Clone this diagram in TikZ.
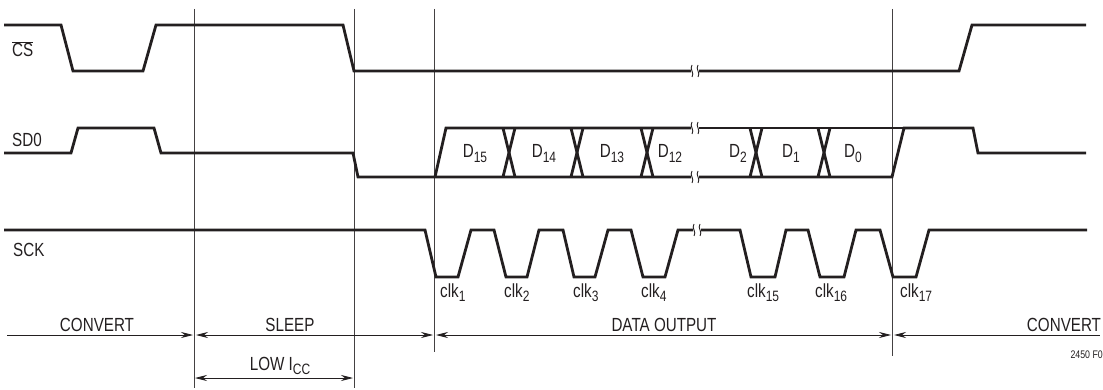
\documentclass[tikz,border=0pt]{standalone}
\usepackage{fontspec}
\setmainfont[FakeStretch=0.8]{Liberation Sans}
\usetikzlibrary{arrows.meta}
\definecolor{ink}{HTML}{231F20}
\newcommand\sbs[1]{\raisebox{-0.26em}{\fontsize{15}{16}\selectfont #1}}
\newcommand\brkmark[2]{%
  \draw[brk] (#1-3,#2-6) .. controls (#1-6,#2-2) and (#1,#2+2) .. (#1-3,#2+6);
  \draw[brk] (#1+3,#2-6) .. controls (#1,#2-2) and (#1+6,#2+2) .. (#1+3,#2+6);}
\begin{document}
\begin{tikzpicture}[x=1pt,y=-1pt,
  sig/.style={line width=2.8pt,ink,line join=miter},
  brk/.style={line width=0.9pt,ink},
  vline/.style={line width=0.8pt,ink!85},
  dim/.style={line width=0.8pt,ink},
  tip/.style={-{Stealth[length=12pt,width=6pt]}},
  lbl/.style={inner sep=0pt,text=ink,font=\fontsize{19}{21}\selectfont},
  small/.style={inner sep=0pt,text=ink,font=\fontsize{11}{12}\selectfont}]
\useasboundingbox (0,0) rectangle (1103,390);
% vertical markers
\coordinate (v1t) at (194,9);  \coordinate (v1b) at (194,388);
\coordinate (v2t) at (354,9);  \coordinate (v2b) at (354,388);
\coordinate (v3t) at (434,9);  \coordinate (v3b) at (434,352);
\coordinate (v4t) at (892,9);  \coordinate (v4b) at (892,356);
\draw[vline] (v1t) -- (v1b);
\draw[vline] (v2t) -- (v2b);
\draw[vline] (v3t) -- (v3b);
\draw[vline] (v4t) -- (v4b);
% CS
\draw[sig] (4,25) -- (61,25) -- (73,71) -- (143,71) -- (156,25) -- (343,25) -- (354,71) -- (691,71);
\draw[sig] (699,71) -- (959,71) -- (972,25) -- (1086,25);
\brkmark{695}{71}
% SDO
\draw[sig] (4,153) -- (71,153) -- (78,128) -- (154,128) -- (161,153) -- (353,153) -- (358,177) -- (691,177);
\draw[sig] (699,177) -- (892,177) -- (904,128) -- (973,128) -- (978,153) -- (1086,153);
\draw[sig] (435,177) -- (446,128) -- (691,128);
\draw[sig] (699,128) -- (904,128);
\brkmark{695}{128}
\brkmark{695}{177}
\foreach \c in {509,577,647,756,824}{
  \draw[sig] (\c-6,128) -- (\c+6,177);
  \draw[sig] (\c+6,128) -- (\c-6,177);
}
% SCK
\draw[sig] (4,230) -- (425,230) -- (436,277) -- (458,277) -- (471,230) -- (494,230) -- (506,277) -- (527,277) -- (539,230) -- (563,230) -- (574,277) -- (595,277) -- (608,230) -- (631,230) -- (643,277) -- (665,277) -- (678,230) -- (693,230);
\draw[sig] (701,230) -- (740,230) -- (751,277) -- (775,277) -- (786,230) -- (808,230) -- (820,277) -- (844,277) -- (856,230) -- (880,230) -- (893,277) -- (916,277) -- (929,230) -- (1087,230);
\brkmark{697}{230}
% signal labels
\node[lbl,anchor=base west] (cs) at (12,57) {$\overline{\hbox{CS}}$};
\node[lbl,anchor=base west] (sdo) at (12,147) {SD0};
\node[lbl,anchor=base west] (sck) at (13,257) {SCK};
% data labels
\node[lbl,anchor=base] (d15) at (475,158) {D\sbs{15}};
\node[lbl,anchor=base] (d14) at (544,158) {D\sbs{14}};
\node[lbl,anchor=base] (d13) at (612,158) {D\sbs{13}};
\node[lbl,anchor=base] (d12) at (670,158) {D\sbs{12}};
\node[lbl,anchor=base] (d2) at (738,158) {D\sbs{2}};
\node[lbl,anchor=base] (d1) at (791,158) {D\sbs{1}};
\node[lbl,anchor=base] (d0) at (853,158) {D\sbs{0}};
% clock labels
\node[lbl,anchor=base west] (c1) at (440,297) {clk\sbs{1}};
\node[lbl,anchor=base west] (c2) at (504,297) {clk\sbs{2}};
\node[lbl,anchor=base west] (c3) at (573,297) {clk\sbs{3}};
\node[lbl,anchor=base west] (c4) at (641,297) {clk\sbs{4}};
\node[lbl,anchor=base west] (c15) at (747,297) {clk\sbs{15}};
\node[lbl,anchor=base west] (c16) at (815,297) {clk\sbs{16}};
\node[lbl,anchor=base west] (c17) at (900,297) {clk\sbs{17}};
% phase arrows
\coordinate (a0) at (7,335);
\coordinate (a1) at (194,335);
\coordinate (a2) at (434,335);
\coordinate (a3) at (892,335);
\coordinate (a4) at (1100,335);
\draw[dim,tip] (a0) -- ([xshift=-1pt]a1);
\draw[dim,{Stealth[length=12pt,width=6pt]}-{Stealth[length=12pt,width=6pt]}] ([xshift=2pt]a1) -- ([xshift=-1pt]a2);
\draw[dim,{Stealth[length=12pt,width=6pt]}-{Stealth[length=12pt,width=6pt]}] ([xshift=2pt]a2) -- ([xshift=-1pt]a3);
\draw[dim,{Stealth[length=12pt,width=6pt]}-] ([xshift=2pt]a3) -- (a4);
\coordinate (l1) at (195,378);
\coordinate (l2) at (353,378);
\draw[dim,{Stealth[length=12pt,width=6pt]}-{Stealth[length=12pt,width=6pt]}] (l1) -- (l2);
\node[lbl,anchor=base] (conv1) at (97,331) {CONVERT};
\node[lbl,anchor=base] (sleep) at (290,331) {SLEEP};
\node[lbl,anchor=base] (dout) at (664,331) {DATA OUTPUT};
\node[lbl,anchor=base] (conv2) at (1064,331) {CONVERT};
\node[lbl,anchor=base] (low) at (280,370) {LOW I\sbs{CC}};
\node[small,anchor=base east] (fig) at (1103,358) {2450 F0};
\end{tikzpicture}
\end{document}
